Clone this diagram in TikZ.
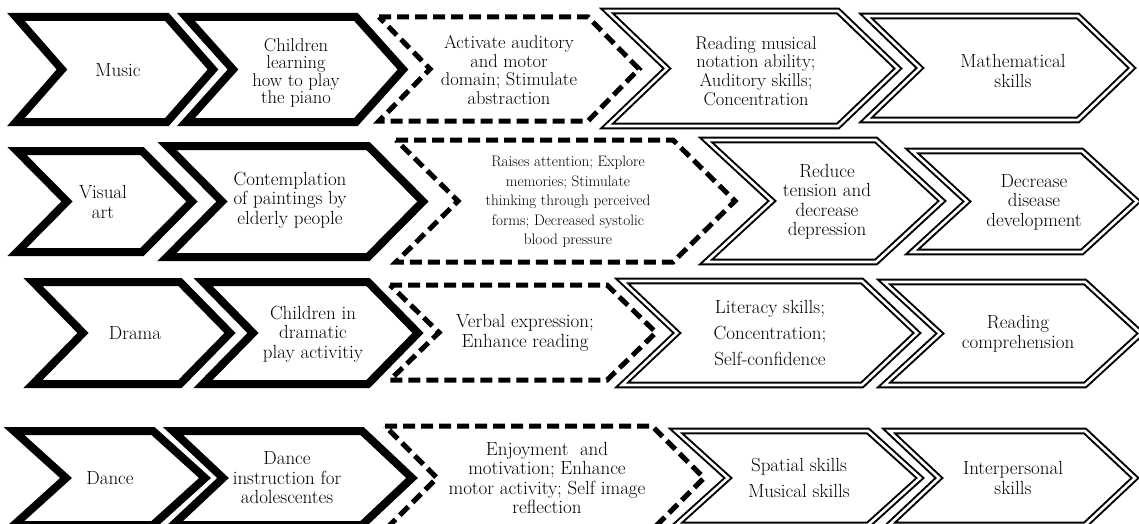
\documentclass[tikz,border=0pt]{standalone}
\begin{document}
\newcommand{\chevshape}[6]{% style, L, R, d, T, B
  \draw[#1] (#2,#5) -- (#3,#5) -- ({#3+#4},{(#5+#6)/2}) -- (#3,#6) -- (#2,#6) -- ({#2+#4},{(#5+#6)/2}) -- cycle;}
\begin{tikzpicture}[x=1pt,y=-1pt,
  thickchev/.style={line width=8pt, line join=miter, draw=black},
  dashchev/.style={line width=5pt, dash pattern=on 12pt off 6pt, line join=miter, draw=black},
  dblchev/.style={line width=2pt, double=white, double distance=2.6pt, line join=miter, draw=black},
  lbl/.style={align=center, inner sep=0pt, font=\fontsize{19}{19.5}\selectfont},
  lbltight/.style={align=center, inner sep=0pt, font=\fontsize{18.5}{17.5}\selectfont},
  lblmid/.style={align=center, inner sep=0pt, font=\fontsize{18.5}{18.8}\selectfont},
  lblsmall/.style={align=center, inner sep=0pt, font=\fontsize{15.2}{19.5}\selectfont},
  lblwide/.style={align=center, inner sep=0pt, font=\fontsize{19}{26}\selectfont}]
\useasboundingbox (0,0) rectangle (1139,524);
\clip (0,0) rectangle (1139,524);
\fill[white] (0,0) rectangle (1139,524);
% Row 1
\chevshape{thickchev}{16}{167}{46}{17}{122}
\chevshape{thickchev}{186}{356}{47}{17}{122}
\chevshape{dashchev}{379}{588}{51}{17}{121}
\chevshape{dblchev}{607}{838}{60}{11}{126}
\chevshape{dblchev}{866}{1078}{54}{16}{120}
\node[lbl] (r1a) at (118,70) {Music};
\node[lbltight] (r1b) at (296,73) {Children\\learning\\how to play\\the piano};
\node[lblmid] (r1c) at (509,70) {Activate auditory\\and motor\\domain; Stimulate\\abstraction};
\node[lblmid] (r1d) at (756,71) {Reading musical\\notation ability;\\Auditory skills;\\Concentration};
\node[lbl] (r1e) at (1013,71) {Mathematical\\skills};
% Row 2
\chevshape{thickchev}{17}{142}{50}{151}{252}
\chevshape{thickchev}{167}{368}{55}{146}{257}
\chevshape{dashchev}{396}{673}{62}{140}{262}
\chevshape{dblchev}{706}{876}{66}{140}{262}
\chevshape{dblchev}{912}{1082}{55}{151}{252}
\node[lbl] (r2a) at (103,202) {Visual\\art};
\node[lbl] (r2b) at (290,200) {Contemplation\\of paintings by\\elderly people};
\node[lblsmall] (r2c) at (568,202) {Raises attention; Explore\\memories; Stimulate\\thinking through perceived\\forms; Decreased systolic\\blood pressure};
\node[lbl] (r2d) at (827,202) {Reduce\\tension and\\decrease\\depression};
\node[lbl] (r2e) at (1034,202) {Decrease\\disease\\development};
% Row 3
\chevshape{thickchev}{33}{180}{50}{282}{384}
\chevshape{thickchev}{203}{368}{50}{282}{384}
\chevshape{dashchev}{390}{607}{49}{285}{380}
\chevshape{dblchev}{622}{862}{55}{281}{385}
\chevshape{dblchev}{884}{1085}{56}{282}{385}
\node[lbl] (r3a) at (135,333) {Drama};
\node[lbl] (r3b) at (313,334) {Children in\\dramatic\\play activitiy};
\node[lbl] (r3c) at (525,333) {Verbal expression;\\Enhance reading};
\node[lblwide] (r3d) at (770,333) {Literacy skills;\\Concentration;\\Self-confidence};
\node[lbl] (r3e) at (1018,334) {Reading\\comprehension};
% Row 4
\chevshape{thickchev}{14}{153}{52}{431}{525}
\chevshape{thickchev}{173}{362}{50}{431}{525}
\chevshape{dashchev}{385}{652}{52}{426}{530}
\chevshape{dblchev}{676}{868}{52}{431}{525}
\chevshape{dblchev}{889}{1085}{50}{431}{525}
\node[lbl] (r4a) at (110,478) {Dance};
\node[lbl] (r4b) at (287,478) {Dance\\instruction for\\adolescentes};
\node[lbl] (r4c) at (547,478) {Enjoyment\ \ and\\motivation; Enhance\\motor activity; Self image\\reflection};
\node[lblwide] (r4d) at (799,478) {Spatial skills\\Musical skills};
\node[lbl] (r4e) at (1013,478) {Interpersonal\\skills};
\end{tikzpicture}
\end{document}
